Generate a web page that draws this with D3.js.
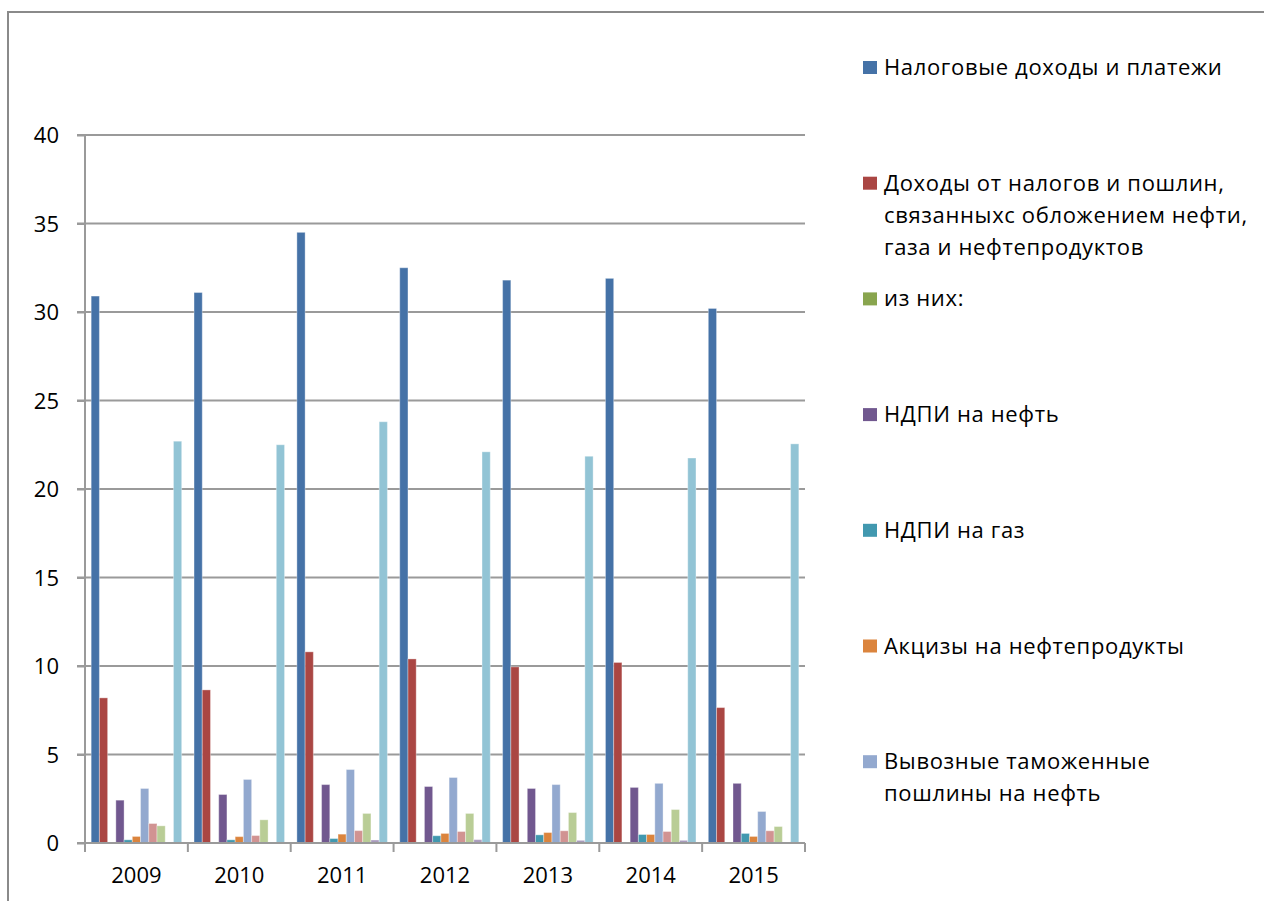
<!DOCTYPE html>
<html>
<head>
<meta charset="utf-8">
<script src="https://cdn.jsdelivr.net/npm/d3@7"></script>
<style>
  html, body { margin: 0; padding: 0; background: #fff; }
  svg { display: block; }
  text { font-family: "Open Sans", "DejaVu Sans", sans-serif; fill: #000; }
</style>
</head>
<body>
<svg id="chart" width="1264" height="901"></svg>
<script>
// Годы
const years = ["2009", "2010", "2011", "2012", "2013", "2014", "2015"];

// Значения рядов по годам
const taxIncome      = [30.9, 31.1, 34.5, 32.5, 31.8, 31.9, 30.2];   // Налоговые доходы и платежи
const oilGasIncome   = [8.2, 8.65, 10.8, 10.4, 9.95, 10.2, 7.65];    // Доходы от налогов и пошлин ...
const ofThem         = [0, 0, 0, 0, 0, 0, 0];                        // из них:
const mineralOil     = [2.42, 2.74, 3.3, 3.19, 3.08, 3.14, 3.37];    // НДПИ на нефть
const mineralGas     = [0.18, 0.18, 0.25, 0.41, 0.46, 0.48, 0.54];   // НДПИ на газ
const exciseOil      = [0.37, 0.36, 0.5, 0.54, 0.59, 0.48, 0.37];    // Акцизы на нефтепродукты
const exportDutyOil  = [3.08, 3.59, 4.15, 3.7, 3.3, 3.37, 1.78];     // Вывозные таможенные пошлины на нефть
const series8        = [1.1, 0.42, 0.7, 0.65, 0.69, 0.65, 0.69];
const series9        = [0.97, 1.31, 1.67, 1.67, 1.72, 1.89, 0.93];
const series10       = [0, 0, 0.17, 0.19, 0.15, 0.15, 0];
const series11       = [22.7, 22.5, 23.8, 22.1, 21.85, 21.75, 22.55];

const allSeries = [taxIncome, oilGasIncome, ofThem, mineralOil, mineralGas, exciseOil,
                   exportDutyOil, series8, series9, series10, series11];

// Подписи легенды (строки переносятся вручную)
const legendLabels = [
  ["Налоговые доходы и платежи"],
  ["Доходы от налогов и пошлин,", "связанныхс обложением нефти,", "газа и нефтепродуктов"],
  ["из них:"],
  ["НДПИ на нефть"],
  ["НДПИ на газ"],
  ["Акцизы на нефтепродукты"],
  ["Вывозные таможенные", "пошлины на нефть"]
];

const yTicks = [0, 5, 10, 15, 20, 25, 30, 35, 40];

const colors = ["#4572A7", "#AA4643", "#89A54E", "#71588F", "#4198AF", "#DB843D",
                "#93A9CF", "#D19392", "#B9CD96", "#A99BBD", "#92C4D5"];

const svg = d3.select("#chart");

// Рамка области диаграммы
svg.append("rect")
  .attr("x", 8).attr("y", 12)
  .attr("width", 1300).attr("height", 1000)
  .attr("fill", "none").attr("stroke", "#8a8a8a").attr("stroke-width", 2);

const plot = { left: 85, right: 805, top: 135, bottom: 843 };

const x = d3.scaleBand().domain(years).range([plot.left, plot.right]).padding(0);
const xs = d3.scaleBand().domain(d3.range(allSeries.length))
  .range([0, x.bandwidth()]).paddingInner(0).paddingOuter(0.75);
const y = d3.scaleLinear().domain([0, 40]).range([plot.bottom, plot.top]);

// Линии сетки
svg.append("g")
  .selectAll("line")
  .data(yTicks)
  .join("line")
  .attr("x1", plot.left - 8).attr("x2", plot.right)
  .attr("y1", d => y(d)).attr("y2", d => y(d))
  .attr("stroke", "#9a9a9a").attr("stroke-width", 2);

// Столбцы
const groups = svg.append("g")
  .selectAll("g")
  .data(allSeries)
  .join("g")
  .attr("fill", (d, i) => colors[i]);

groups.selectAll("rect")
  .data((vals, si) => vals.map((v, yi) => ({ v, si, yi })))
  .join("rect")
  .filter(d => d.v > 0)
  .attr("x", d => x(years[d.yi]) + xs(d.si))
  .attr("width", xs.bandwidth())
  .attr("y", d => y(d.v))
  .attr("height", d => y(0) - y(d.v))
  .attr("stroke", "#ffffff").attr("stroke-opacity", 0.35).attr("stroke-width", 1);

// Ось Y
const yAxis = svg.append("g")
  .attr("transform", `translate(${plot.left},0)`)
  .call(d3.axisLeft(y).tickValues(yTicks).tickSize(8).tickPadding(18));
yAxis.select(".domain").attr("stroke", "#9a9a9a").attr("stroke-width", 2)
  .attr("d", `M0,${plot.top}V${plot.bottom}`);
yAxis.selectAll(".tick line").attr("stroke", "#9a9a9a").attr("stroke-width", 2);
yAxis.selectAll(".tick text").style("font-size", "22px").attr("dy", "0.36em");

// Ось X: подписи по центру категорий
const xAxis = svg.append("g")
  .attr("transform", `translate(0,${plot.bottom})`)
  .call(d3.axisBottom(x).tickSize(0).tickPadding(24));
xAxis.select(".domain").attr("stroke", "#9a9a9a").attr("stroke-width", 2)
  .attr("d", `M${plot.left},0H${plot.right}`);
xAxis.selectAll(".tick text").style("font-size", "22px");

// Засечки на границах категорий
const bounds = years.map(d => x(d)).concat([plot.right]);
svg.append("g")
  .selectAll("line")
  .data(bounds)
  .join("line")
  .attr("x1", d => d).attr("x2", d => d)
  .attr("y1", plot.bottom).attr("y2", plot.bottom + 9)
  .attr("stroke", "#9a9a9a").attr("stroke-width", 2);

// Легенда
const legend = svg.append("g").attr("transform", "translate(863,0)");
const legendStep = 115.7, legendTop = 75, lineH = 32;
const items = legend.selectAll("g")
  .data(legendLabels)
  .join("g")
  .attr("transform", (d, i) => `translate(0,${legendTop + i * legendStep})`);
items.append("rect")
  .attr("x", 0).attr("y", -14)
  .attr("width", 14).attr("height", 13)
  .attr("fill", (d, i) => colors[i]);
items.append("text")
  .attr("x", 21)
  .style("font-size", "22px")
  .style("letter-spacing", "0.65px")
  .selectAll("tspan")
  .data(d => d)
  .join("tspan")
  .attr("x", 21)
  .attr("y", (d, i) => i * lineH)
  .text(d => d);
</script>
</body>
</html>
